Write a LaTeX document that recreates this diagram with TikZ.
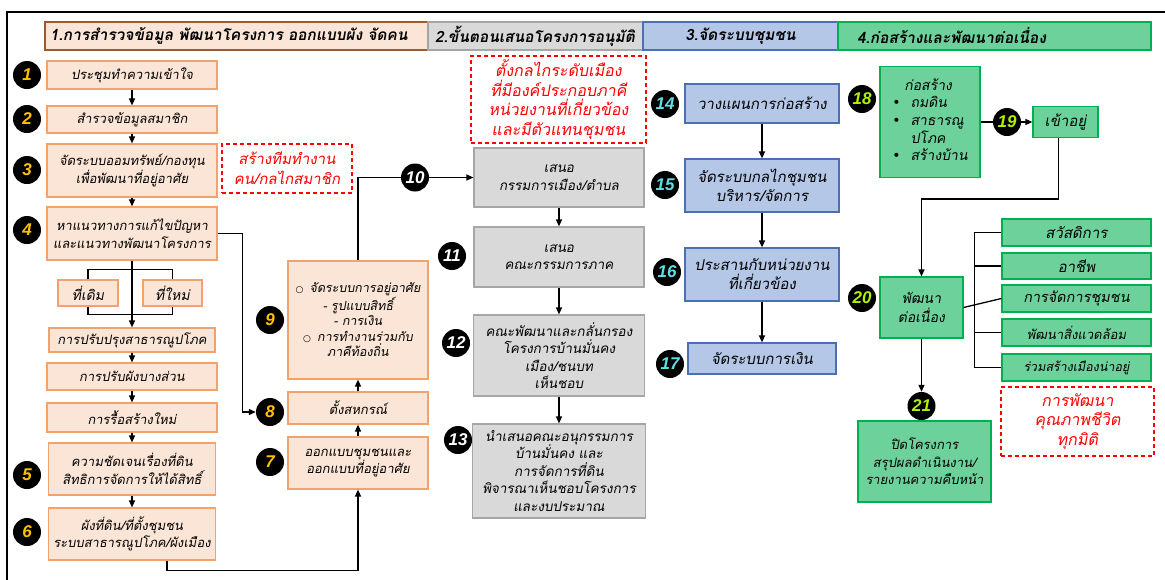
\documentclass[tikz,border=0pt]{standalone}
\usepackage{fontspec}
\usetikzlibrary{arrows.meta}
\newfontfamily\thai[Script=Thai,FakeSlant=0.18]{Loma}
\newfontfamily\numf{Liberation Sans}
\newfontfamily\sym{DejaVu Sans}
\definecolor{peach}{HTML}{FBE5D6}
\definecolor{peachd}{HTML}{F4A26B}
\definecolor{brownd}{HTML}{9C5B2E}
\definecolor{greyf}{HTML}{D9D9D9}
\definecolor{greyd}{HTML}{A6A6A6}
\definecolor{bluef}{HTML}{B4C7E7}
\definecolor{blued}{HTML}{4A6FB5}
\definecolor{greenf}{HTML}{6DD19B}
\definecolor{greend}{HTML}{00B050}
\definecolor{numY}{HTML}{FFC000}
\definecolor{numC}{HTML}{5CE1E6}
\definecolor{numG}{HTML}{B0F000}
\tikzset{
  base/.style={draw, line width=1.2pt, align=center, inner sep=2pt, font=\thai\fontsize{13}{17.5}\selectfont},
  pbox/.style={base, fill=peach, draw=peachd},
  gbox/.style={base, fill=greyf, draw=greyd, font=\thai\fontsize{13.5}{17.5}\selectfont},
  bbox/.style={base, fill=bluef, draw=blued, font=\thai\fontsize{15}{19}\selectfont},
  grbox/.style={base, fill=greenf, draw=greend},
  rbox/.style={draw=red, dash pattern=on 4pt off 3pt, line width=1.2pt, align=center, text=red, inner sep=2pt, font=\thai\fontsize{16}{19.5}\selectfont},
  num/.style={circle, fill=black, minimum size=28pt, inner sep=0pt, font=\numf\bfseries\itshape\fontsize{17}{17}\selectfont},
  arr/.style={-{Triangle[length=7pt,width=6pt]}, line width=1.3pt},
  ln/.style={line width=1.3pt},
  hd/.style={line width=1.5pt, minimum height=28pt, inner ysep=0pt, font=\thai\bfseries\fontsize{15.5}{17}\selectfont}
}
\begin{document}
\begin{tikzpicture}[x=1pt,y=-1pt]
\useasboundingbox (0,0) rectangle (1165,579);
\fill[white] (0,0) rectangle (1165,579);
\draw[line width=2pt] (7,12) rectangle (1190,600);

% headers
\node[hd, draw=brownd, fill=peach, inner xsep=5pt, text width=373pt, align=left] (h1) at (236.5,36) {1.การสำรวจข้อมูล พัฒนาโครงการ ออกแบบผัง จัดคน};
\node[hd, draw=greyd, fill=greyf, inner xsep=7pt, text width=201pt, align=left] (h2) at (535.5,36) {2.ขั้นตอนเสนอโครงการอนุมัติ};
\node[hd, draw=blued, fill=bluef, minimum width=195pt, align=center] (h3) at (740.5,36) {3.จัดระบบชุมชน};
\node[hd, draw=greend, fill=greenf, inner xsep=19pt, text width=275pt, align=left] (h4) at (994.5,36) {4.ก่อสร้างและพัฒนาต่อเนื่อง};

% column 1
\node[pbox, minimum width=170pt, minimum height=28pt] (b1) at (132,75) {ประชุมทำความเข้าใจ};
\node[pbox, minimum width=170pt, minimum height=27pt] (b2) at (132,119.5) {สำรวจข้อมูลสมาชิก};
\node[pbox, minimum width=170pt, minimum height=53pt] (b3) at (132,170.5) {จัดระบบออมทรัพย์/กองทุน\\เพื่อพัฒนาที่อยู่อาศัย};
\node[pbox, minimum width=170pt, minimum height=53pt] (b4) at (132,233.5) {หาแนวทางการแก้ไขปัญหา\\และแนวทางพัฒนาโครงการ};
\node[pbox, minimum width=60pt, minimum height=26pt, font=\thai\fontsize{14}{17}\selectfont] (old) at (88,293) {ที่เดิม};
\node[pbox, minimum width=59pt, minimum height=26pt, font=\thai\fontsize{14}{17}\selectfont] (new) at (172.5,293) {ที่ใหม่};
\node[pbox, minimum width=166pt, minimum height=24pt] (b4a) at (132,340) {การปรับปรุงสาธารณูปโภค};
\node[pbox, minimum width=170pt, minimum height=27pt] (b4b) at (132,376.5) {การปรับผังบางส่วน};
\node[pbox, minimum width=170pt, minimum height=29pt] (b4c) at (132,417.5) {การรื้อสร้างใหม่};
\node[pbox, minimum width=167pt, minimum height=52pt] (b5) at (132,469) {ความชัดเจนเรื่องที่ดิน\\สิทธิการจัดการให้ได้สิทธิ์};
\node[pbox, minimum width=167pt, minimum height=52pt] (b6) at (132,534) {ผังที่ดิน/ที่ตั้งชุมชน\\ระบบสาธารณูปโภค/ผังเมือง};
\node[rbox, minimum width=130pt, minimum height=49pt, font=\thai\fontsize{15}{20}\selectfont] (r1) at (287,168.5) {สร้างทีมทำงาน\\คน/กลไกสมาชิก};

% column 2
\node[pbox, minimum width=140pt, minimum height=52pt] (b7) at (358,463) {ออกแบบชุมชนและ\\ออกแบบที่อยู่อาศัย};
\node[pbox, minimum width=140pt, minimum height=32pt] (b8) at (358,408) {ตั้งสหกรณ์};
\node[pbox, minimum width=140pt, minimum height=118pt, font=\thai\fontsize{12.5}{15.5}\selectfont] (b9) at (358,320) {{\sym\small ○}\enspace จัดระบบการอยู่อาศัย\\- รูปแบบสิทธิ์\\- การเงิน\\{\sym\small ○}\enspace การทำงานร่วมกับ\\ภาคีท้องถิ่น};

% column 3
\node[rbox, minimum width=175pt, minimum height=87pt] (r2) at (558.5,99.5) {ตั้งกลไกระดับเมือง\\ที่มีองค์ประกอบภาคี\\หน่วยงานที่เกี่ยวข้อง\\และมีตัวแทนชุมชน};
\node[gbox, minimum width=170pt, minimum height=59pt] (ga) at (559,177.5) {เสนอ\\กรรมการเมือง/ตำบล};
\node[gbox, minimum width=170pt, minimum height=60pt] (gb) at (559,257) {เสนอ\\คณะกรรมการภาค};
\node[gbox, minimum width=171pt, minimum height=81pt] (gc) at (559,355.5) {คณะพัฒนาและกลั่นกรอง\\โครงการบ้านมั่นคง\\เมือง/ชนบท\\เห็นชอบ};
\node[gbox, minimum width=173pt, minimum height=94pt] (gd) at (559,471) {นำเสนอคณะอนุกรรมการ\\บ้านมั่นคง และ\\การจัดการที่ดิน\\พิจารณาเห็นชอบโครงการ\\และงบประมาณ};

% column 4
\node[bbox, minimum width=154pt, minimum height=39pt] (c14b) at (762,103.5) {วางแผนการก่อสร้าง};
\node[bbox, minimum width=154pt, minimum height=53pt] (c15b) at (762,185.5) {จัดระบบกลไกชุมชน\\บริหาร/จัดการ};
\node[bbox, minimum width=154pt, minimum height=53pt] (c16b) at (762,274.5) {ประสานกับหน่วยงาน\\ที่เกี่ยวข้อง};
\node[bbox, minimum width=148pt, minimum height=31pt] (c17b) at (762,358.5) {จัดระบบการเงิน};

% column 5
\node[grbox, minimum width=100pt, minimum height=111pt, align=left, font=\thai\fontsize{14}{17.5}\selectfont] (b18) at (930,122) {\renewcommand{\arraystretch}{1}\begin{tabular}{@{}l@{\hspace{10pt}}l@{}}\multicolumn{2}{@{}l}{\hspace{12pt}ก่อสร้าง}\\{\sym •}&ถมดิน\\{\sym •}&สาธารณู\\&ปโภค\\{\sym •}&สร้างบ้าน\end{tabular}};
\node[grbox, minimum width=65pt, minimum height=31pt, font=\thai\fontsize{15}{17}\selectfont] (b19) at (1065.5,122) {เข้าอยู่};
\node[grbox, minimum width=83pt, minimum height=61pt, font=\thai\fontsize{14}{19}\selectfont] (b20) at (921.5,307.5) {พัฒนา\\ต่อเนื่อง};
\node[grbox, minimum width=149pt, minimum height=27pt, font=\thai\fontsize{15}{17}\selectfont] (l1) at (1076.5,232.5) {สวัสดิการ};
\node[grbox, minimum width=149pt, minimum height=26pt, font=\thai\fontsize{15}{17}\selectfont] (l2) at (1076.5,266) {อาชีพ};
\node[grbox, minimum width=149pt, minimum height=27pt, font=\thai\fontsize{14.5}{17}\selectfont] (l3) at (1076.5,298.5) {การจัดการชุมชน};
\node[grbox, minimum width=149pt, minimum height=27pt, font=\thai\fontsize{13}{15}\selectfont] (l4) at (1076.5,332.5) {พัฒนาสิ่งแวดล้อม};
\node[grbox, minimum width=149pt, minimum height=27pt, font=\thai\fontsize{12.5}{15}\selectfont] (l5) at (1076.5,367.5) {ร่วมสร้างเมืองน่าอยู่};
\node[rbox, minimum width=153pt, minimum height=69pt] (r3) at (1077.5,421.5) {การพัฒนา\\คุณภาพชีวิต\\ทุกมิติ};
\node[grbox, minimum width=133pt, minimum height=81pt] (b21) at (924.5,461.5) {ปิดโครงการ\\สรุปผลดำเนินงาน/\\รายงานความคืบหน้า};

% circles referenced by connectors
\node[num, text=numY] (n8) at (270,412) {8};
\node[num, text=numG] (n21) at (921.5,406) {21};

% connectors column 1
\draw[arr] (b1) -- (b2);
\draw[arr] (b2) -- (b3);
\draw[arr] (b3) -- (b4);
\draw[arr] (b4.south) -- (b4a.north);
\draw[ln] (old.north) -- ++(0,-10) -| (new.north);
\draw[ln] (old.south) -- ++(0,8) -| (new.south);
\draw[arr] (b4a) -- (b4b);
\draw[arr] (b4b) -- (b4c);
\draw[arr] (b4c) -- (b5);
\draw[arr] (b5) -- (b6);
\draw[arr] (b4.east) -- ++(25,0) |- (n8.west);
\draw[arr] ([xshift=35pt]b6.south) -- ++(0,10) -| (b7.south);
% column 2
\draw[arr] (b7) -- (b8);
\draw[arr] (b8) -- (b9);
\draw[arr] (b9.north) |- (ga.west);
% column 3
\draw[arr] (ga) -- (gb);
\draw[arr] (gb) -- (gc);
\draw[arr] (gc) -- (gd);
% column 4
\draw[arr] (c14b) -- (c15b);
\draw[arr] (c15b) -- (c16b);
\draw[arr] (c16b.south) -- (c16b.south |- c17b.north);
% column 5
\draw[arr] (b18.east) -- (b19.west);
\draw[arr] ([xshift=-7pt]b19.south) -- ++(0,61) -| (b20.north);
\draw[ln] (b20.east) -- (l3.west);
\draw[ln] (l1.west) -- ++(-27,0) |- (l5.west);
\draw[ln] (l2.west) -- ++(-27,0);
\draw[ln] (l4.west) -- ++(-27,0);
\draw[arr] (b20.south) -- (n21.north);

% number circles
\node[num, text=numY] (n1) at (27,75) {1};
\node[num, text=numY] (n2) at (27,119) {2};
\node[num, text=numY] (n3) at (27,170) {3};
\node[num, text=numY] (n4) at (27,230) {4};
\node[num, text=numY] (n5) at (27,475) {5};
\node[num, text=numY] (n6) at (27,532) {6};
\node[num, text=numY] (n7) at (270,462) {7};
\node[num, text=numY] (n9) at (270,320) {9};
\node[num, text=white] (n10) at (415,177.5) {10};
\node[num, text=white] (n11) at (452,256) {11};
\node[num, text=white] (n12) at (456,343) {12};
\node[num, text=white] (n13) at (458,440) {13};
\node[num, text=numC] (n14) at (665,104) {14};
\node[num, text=numC] (n15) at (665,185) {15};
\node[num, text=numC] (n16) at (667,272) {16};
\node[num, text=numC] (n17) at (670,364) {17};
\node[num, text=numG] (n18) at (862,99) {18};
\node[num, text=numG] (n19) at (1007,122) {19};
\node[num, text=numG] (n20) at (862,298) {20};
\end{tikzpicture}
\end{document}
